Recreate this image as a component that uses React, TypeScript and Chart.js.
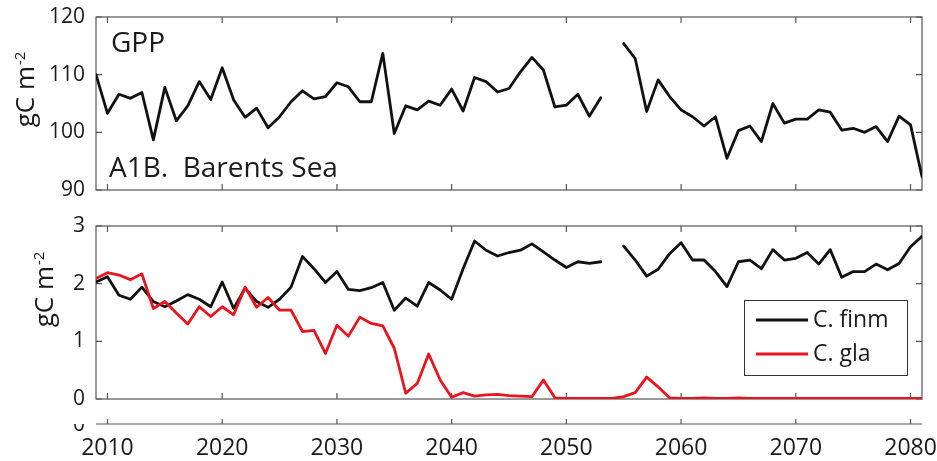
import React, { useEffect, useRef } from "react";
import { Chart, registerables } from "chart.js";

Chart.register(...registerables);

const years = [
  2009, 2010, 2011, 2012, 2013, 2014, 2015, 2016, 2017, 2018,
  2019, 2020, 2021, 2022, 2023, 2024, 2025, 2026, 2027, 2028,
  2029, 2030, 2031, 2032, 2033, 2034, 2035, 2036, 2037, 2038,
  2039, 2040, 2041, 2042, 2043, 2044, 2045, 2046, 2047, 2048,
  2049, 2050, 2051, 2052, 2053, 2054, 2055, 2056, 2057, 2058,
  2059, 2060, 2061, 2062, 2063, 2064, 2065, 2066, 2067, 2068,
  2069, 2070, 2071, 2072, 2073, 2074, 2075, 2076, 2077, 2078,
  2079, 2080, 2081,
];

const gppValues = [
  110.0, 103.3, 106.6, 105.9, 106.9, 98.7, 107.8, 102.0, 104.6, 108.8,
  105.7, 111.2, 105.6, 102.6, 104.2, 100.8, 102.7, 105.3, 107.2, 105.8,
  106.2, 108.6, 107.9, 105.3, 105.3, 113.7, 99.8, 104.6, 103.9, 105.4,
  104.7, 107.5, 103.7, 109.5, 108.8, 107.0, 107.6, 110.5, 113.0, 110.8,
  104.4, 104.7, 106.6, 102.8, 106.0, null, 115.4, 112.8, 103.6, 109.1,
  106.2, 103.9, 102.7, 101.1, 102.7, 95.5, 100.3, 101.1, 98.4, 105.0,
  101.6, 102.3, 102.3, 103.9, 103.5, 100.4, 100.7, 100.0, 101.0, 98.4,
  102.8, 101.3, 92.3,
];

const finmValues = [
  2.03, 2.12, 1.80, 1.73, 1.94, 1.69, 1.60, 1.70, 1.81, 1.73,
  1.60, 2.03, 1.57, 1.92, 1.69, 1.59, 1.73, 1.94, 2.47, 2.26,
  2.02, 2.21, 1.90, 1.88, 1.93, 2.02, 1.54, 1.75, 1.61, 2.02,
  1.89, 1.73, 2.26, 2.74, 2.58, 2.48, 2.54, 2.58, 2.69, 2.55,
  2.41, 2.28, 2.38, 2.35, 2.38, null, 2.65, 2.41, 2.13, 2.25,
  2.52, 2.71, 2.41, 2.41, 2.21, 1.95, 2.38, 2.41, 2.26, 2.59,
  2.41, 2.44, 2.54, 2.34, 2.59, 2.11, 2.21, 2.21, 2.34, 2.24,
  2.35, 2.64, 2.82,
];

const glaValues = [
  2.09, 2.19, 2.15, 2.07, 2.17, 1.57, 1.69, 1.49, 1.30, 1.60,
  1.43, 1.60, 1.46, 1.94, 1.59, 1.76, 1.54, 1.54, 1.17, 1.19,
  0.79, 1.28, 1.09, 1.42, 1.31, 1.27, 0.88, 0.10, 0.27, 0.78,
  0.33, 0.03, 0.11, 0.05, 0.07, 0.08, 0.06, 0.05, 0.04, 0.33,
  0.02, 0.01, 0.01, 0.01, 0.01, 0.01, 0.04, 0.11, 0.38, 0.21,
  0.02, 0.01, 0.01, 0.02, 0.01, 0.01, 0.02, 0.01, 0.01, 0.01,
  0.01, 0.01, 0.01, 0.01, 0.01, 0.01, 0.01, 0.01, 0.01, 0.01,
  0.01, 0.01, 0.01,
];

const xTickYears = [2010, 2020, 2030, 2040, 2050, 2060, 2070, 2080];
const gppTicks = [90, 100, 110, 120];
const biomassTicks = [0, 1, 2, 3];
const seriesNames = ["C. finm", "C. gla"];
const seriesColors = ["#111111", "#e8141e"];
const panelLabels = ["GPP", "A1B.  Barents Sea"];
const unitLabel = "gC m";
const unitSup = "-2";

const FONT = "'Open Sans', 'DejaVu Sans', sans-serif";
const W = 937;
const H = 461;
const AXIS_W = 96;
const RIGHT_PAD = 15;
const TEXT = "#1a1a1a";
const FRAME = "#555555";

function toPoints(vals: (number | null)[]) {
  return years.map((x, i) => ({ x, y: vals[i] }));
}

function drawFrame(chart: any, yTicks: number[]) {
  const { ctx, chartArea: a } = chart;
  const xs = chart.scales.x;
  const ys = chart.scales.y;
  ctx.save();
  ctx.strokeStyle = FRAME;
  ctx.lineWidth = 1.2;
  ctx.strokeRect(a.left, a.top, a.right - a.left, a.bottom - a.top);
  ctx.beginPath();
  for (const t of xTickYears) {
    const px = xs.getPixelForValue(t);
    ctx.moveTo(px, a.top);
    ctx.lineTo(px, a.top + 6);
    ctx.moveTo(px, a.bottom);
    ctx.lineTo(px, a.bottom - 6);
  }
  for (const t of yTicks) {
    const py = ys.getPixelForValue(t);
    ctx.moveTo(a.left, py);
    ctx.lineTo(a.left + 6, py);
    ctx.moveTo(a.right, py);
    ctx.lineTo(a.right - 6, py);
  }
  ctx.stroke();
  ctx.restore();
}

function drawUnit(ctx: CanvasRenderingContext2D, baselineX: number, centerY: number) {
  ctx.save();
  ctx.translate(baselineX, centerY);
  ctx.rotate(-Math.PI / 2);
  ctx.fillStyle = TEXT;
  ctx.textAlign = "left";
  ctx.textBaseline = "alphabetic";
  ctx.font = `26px ${FONT}`;
  const mainW = ctx.measureText(unitLabel).width;
  ctx.font = `15px ${FONT}`;
  const supW = ctx.measureText(unitSup).width;
  const start = -(mainW + supW) / 2;
  ctx.font = `26px ${FONT}`;
  ctx.fillText(unitLabel, start, 0);
  ctx.font = `15px ${FONT}`;
  ctx.fillText(unitSup, start + mainW + 1, -9);
  ctx.restore();
}

function baseOptions(yMin: number, yMax: number, yTicks: number[], padding: any, showX: boolean): any {
  return {
    responsive: false,
    animation: false,
    events: [],
    layout: { padding },
    plugins: { legend: { display: false }, tooltip: { enabled: false } },
    elements: {
      point: { radius: 0 },
      line: { tension: 0, borderJoinStyle: "round", borderCapStyle: "round" },
    },
    scales: {
      x: {
        type: "linear",
        min: 2009,
        max: 2081,
        display: showX,
        afterBuildTicks: (s: any) => {
          s.ticks = xTickYears.map((v) => ({ value: v }));
        },
        afterFit: (s: any) => {
          s.paddingLeft = 0;
          s.paddingRight = 0;
          s.height = showX ? 62 : 0;
        },
        grid: { display: false, drawTicks: false },
        border: { display: false },
        ticks: {
          font: { family: FONT, size: 23 },
          color: TEXT,
          padding: 36,
          maxRotation: 0,
          autoSkip: false,
          callback: (v: any) => String(v),
        },
      },
      y: {
        type: "linear",
        min: yMin,
        max: yMax,
        afterBuildTicks: (s: any) => {
          s.ticks = yTicks.map((v) => ({ value: v }));
        },
        afterFit: (s: any) => {
          s.width = AXIS_W;
          s.paddingTop = 0;
          s.paddingBottom = 0;
        },
        grid: { display: false, drawTicks: false },
        border: { display: false },
        ticks: {
          font: { family: FONT, size: 21 },
          color: TEXT,
          padding: 11,
          callback: (v: any) => String(v),
        },
      },
    },
  };
}

function topConfig(): any {
  return {
    type: "line",
    data: {
      datasets: [
        {
          label: "GPP",
          data: toPoints(gppValues),
          borderColor: seriesColors[0],
          borderWidth: 2.8,
          spanGaps: false,
        },
      ],
    },
    options: baseOptions(90, 120, gppTicks, { top: 17, right: RIGHT_PAD, bottom: H - 190, left: 0 }, false),
    plugins: [
      {
        id: "topDecor",
        beforeDatasetsDraw(chart: any) {
          drawFrame(chart, gppTicks);
        },
        afterDraw(chart: any) {
          const { ctx, chartArea: a } = chart;
          drawUnit(ctx, 34, a.top + 73);
          ctx.save();
          ctx.fillStyle = TEXT;
          ctx.textAlign = "left";
          ctx.textBaseline = "alphabetic";
          ctx.font = `28px ${FONT}`;
          ctx.fillText(panelLabels[0], a.left + 15, a.top + 35);
          ctx.fillText(panelLabels[1], a.left + 13, a.bottom - 13);
          ctx.restore();
        },
      },
    ],
  };
}

function bottomConfig(): any {
  return {
    type: "line",
    data: {
      datasets: [
        {
          label: seriesNames[0],
          data: toPoints(finmValues),
          borderColor: seriesColors[0],
          borderWidth: 2.8,
          spanGaps: false,
          order: 1,
        },
        {
          label: seriesNames[1],
          data: toPoints(glaValues),
          borderColor: seriesColors[1],
          borderWidth: 2.8,
          spanGaps: false,
          order: 0,
        },
      ],
    },
    options: baseOptions(0, 3, biomassTicks, { top: 226, right: RIGHT_PAD, bottom: 0, left: 0 }, true),
    plugins: [
      {
        id: "bottomDecor",
        beforeDatasetsDraw(chart: any) {
          drawFrame(chart, biomassTicks);
          const { ctx, chartArea: a } = chart;
          const xs = chart.scales.x;
          const sy = a.bottom + 25;
          ctx.save();
          ctx.strokeStyle = FRAME;
          ctx.lineWidth = 1.2;
          ctx.beginPath();
          ctx.moveTo(a.left, sy);
          ctx.lineTo(a.right, sy);
          for (const t of xTickYears) {
            const px = xs.getPixelForValue(t);
            ctx.moveTo(px, sy);
            ctx.lineTo(px, sy - 5);
          }
          ctx.stroke();
          ctx.beginPath();
          ctx.rect(0, sy, a.left, 10);
          ctx.clip();
          ctx.fillStyle = TEXT;
          ctx.font = `21px ${FONT}`;
          ctx.textAlign = "right";
          ctx.textBaseline = "middle";
          ctx.fillText(String(biomassTicks[0]), a.left - 11, sy + 1);
          ctx.restore();
        },
        afterDraw(chart: any) {
          const { ctx, chartArea: a } = chart;
          drawUnit(ctx, 53, a.top + 64);
          const bw = 163;
          const bh = 75;
          const bx = a.right - 15 - bw;
          const by = a.bottom - 24 - bh;
          ctx.save();
          ctx.fillStyle = "#ffffff";
          ctx.fillRect(bx, by, bw, bh);
          ctx.strokeStyle = "#333333";
          ctx.lineWidth = 1;
          ctx.strokeRect(bx + 0.5, by + 0.5, bw, bh);
          const rows = [by + 20, by + 54];
          chart.data.datasets.forEach((ds: any, i: number) => {
            ctx.strokeStyle = ds.borderColor;
            ctx.lineWidth = 2.8;
            ctx.beginPath();
            ctx.moveTo(bx + 12, rows[i]);
            ctx.lineTo(bx + 64, rows[i]);
            ctx.stroke();
            ctx.fillStyle = TEXT;
            ctx.font = `23px ${FONT}`;
            ctx.textAlign = "left";
            ctx.textBaseline = "middle";
            ctx.fillText(ds.label, bx + 69, rows[i]);
          });
          ctx.restore();
        },
      },
    ],
  };
}

export default function App() {
  const topRef = useRef<HTMLCanvasElement>(null);
  const botRef = useRef<HTMLCanvasElement>(null);
  useEffect(() => {
    const c1 = new Chart(topRef.current as HTMLCanvasElement, topConfig());
    const c2 = new Chart(botRef.current as HTMLCanvasElement, bottomConfig());
    return () => {
      c1.destroy();
      c2.destroy();
    };
  }, []);
  return (
    <div style={{ position: "fixed", left: 0, top: 0, width: W, height: H, background: "#ffffff" }}>
      <canvas ref={botRef} width={W} height={H} style={{ position: "absolute", left: 0, top: 0 }} />
      <canvas ref={topRef} width={W} height={H} style={{ position: "absolute", left: 0, top: 0 }} />
    </div>
  );
}
